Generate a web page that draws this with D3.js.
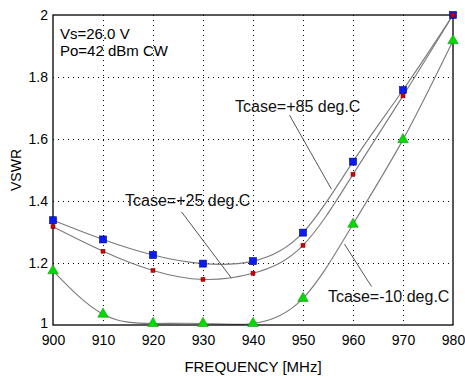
<!DOCTYPE html>
<html>
<head>
<meta charset="utf-8">
<script src="https://cdn.jsdelivr.net/npm/d3@7"></script>
<style>
  body { margin: 0; background: #fff; }
  svg { display: block; font-family: "Liberation Sans", Arial, sans-serif; }
  .grid line { stroke: #000; stroke-width: 1; stroke-dasharray: 1,4; }
  .curve { fill: none; stroke: #7a7a7a; stroke-width: 1.1; }
  .leader { stroke: #555; stroke-width: 1; }
</style>
</head>
<body>
<svg id="chart" width="465" height="376"></svg>
<script>
// frequencies (MHz)
var freqs = [900, 910, 920, 930, 940, 950, 960, 970, 980];

// VSWR per case temperature
var vswr85 = [1.338, 1.276, 1.226, 1.198, 1.206, 1.298, 1.527, 1.758, 2.0];
var vswr25 = [1.317, 1.238, 1.176, 1.147, 1.167, 1.257, 1.486, 1.739, 2.0];
var vswrM10 = [1.175, 1.035, 1.005, 1.005, 1.005, 1.086, 1.325, 1.598, 1.917];

var xTicks = [900, 910, 920, 930, 940, 950, 960, 970, 980];
var yTicks = [1, 1.2, 1.4, 1.6, 1.8, 2];
var yTickLabels = ["1", "1.2", "1.4", "1.6", "1.8", "2"];

var infoLines = ["Vs=26.0 V", "Po=42 dBm CW"];

// annotation labels: text anchor and leader end points, in data units
var annLabels = ["Tcase=+85 deg.C", "Tcase=+25 deg.C", "Tcase=-10 deg.C"];
var annText = [[936.4, 1.687], [914.4, 1.384], [955.0, 1.075]];
var annLeader = [[[947.3, 1.677], [955.7, 1.438]],
                 [[925.7, 1.365], [935.7, 1.151]],
                 [[963.7, 1.124], [958.3, 1.261]]];

var svg = d3.select("#chart");
var margin = { top: 15, right: 12, bottom: 51, left: 53 };
var width = +svg.attr("width") - margin.left - margin.right;
var height = +svg.attr("height") - margin.top - margin.bottom;

var xScale = d3.scaleLinear().domain([900, 980]).range([0, width]);
var yScale = d3.scaleLinear().domain([1, 2]).range([height, 0]);

var g = svg.append("g")
    .attr("transform", "translate(" + margin.left + "," + margin.top + ")");

// grid
var grid = g.append("g").attr("class", "grid");
grid.selectAll(".gx")
    .data(xTicks.slice(1, -1))
    .enter().append("line")
    .attr("x1", function (d) { return Math.round(xScale(d)) + 0.5; })
    .attr("x2", function (d) { return Math.round(xScale(d)) + 0.5; })
    .attr("y1", 0).attr("y2", height);
grid.selectAll(".gy")
    .data(yTicks.slice(1, -1))
    .enter().append("line")
    .attr("y1", function (d) { return Math.round(yScale(d)) + 0.5; })
    .attr("y2", function (d) { return Math.round(yScale(d)) + 0.5; })
    .attr("x1", 0).attr("x2", width);

// axes labels
var xAxis = d3.axisBottom(xScale)
    .tickValues(xTicks)
    .tickFormat(d3.format("d"))
    .tickSize(0)
    .tickPadding(10);
var yAxis = d3.axisLeft(yScale)
    .tickValues(yTicks)
    .tickFormat(function (d, i) { return yTickLabels[i]; })
    .tickSize(0)
    .tickPadding(5);

var gx = g.append("g")
    .attr("transform", "translate(0," + height + ")")
    .call(xAxis);
var gy = g.append("g").call(yAxis);
[gx, gy].forEach(function (a) {
    a.select(".domain").remove();
    a.selectAll("text").attr("font-size", 14).attr("fill", "#000")
        .attr("font-family", "Liberation Sans, Arial, sans-serif");
});
// lowest y label sits a little higher so it clears the x labels
gy.selectAll("text").filter(function (d) { return d === 1; }).attr("dy", "0.15em");

// curves
var line = d3.line()
    .x(function (d) { return xScale(d[0]); })
    .y(function (d) { return yScale(d[1]); })
    .curve(d3.curveNatural);

var series = [vswr85, vswr25, vswrM10];
series.forEach(function (vals) {
    g.append("path")
        .attr("class", "curve")
        .attr("d", line(freqs.map(function (f, i) { return [f, vals[i]]; })));
});

// frame
g.append("rect")
    .attr("x", 0).attr("y", 0)
    .attr("width", width).attr("height", height)
    .attr("fill", "none").attr("stroke", "#000").attr("stroke-width", 1.3);

// markers
g.selectAll(".m85")
    .data(vswr85)
    .enter().append("rect")
    .attr("x", function (d, i) { return xScale(freqs[i]) - 3.5; })
    .attr("y", function (d) { return yScale(d) - 3.5; })
    .attr("width", 7).attr("height", 7)
    .attr("fill", "#0a1cf0").attr("stroke", "#00008b").attr("stroke-width", 0.6);

g.selectAll(".m25")
    .data(vswr25)
    .enter().append("rect")
    .attr("x", function (d, i) { return xScale(freqs[i]) - 2; })
    .attr("y", function (d) { return yScale(d) - 2; })
    .attr("width", 4).attr("height", 4)
    .attr("fill", "#d00000").attr("stroke", "#800000").attr("stroke-width", 0.5);

var tri = d3.symbol().type(d3.symbolTriangle).size(48);
g.selectAll(".m10")
    .data(vswrM10)
    .enter().append("path")
    .attr("d", tri)
    .attr("transform", function (d, i) {
        return "translate(" + xScale(freqs[i]) + "," + yScale(d) + ")";
    })
    .attr("fill", "#00dc00").attr("stroke", "#2a8a2a").attr("stroke-width", 0.6);

// info text
g.selectAll(".info")
    .data(infoLines)
    .enter().append("text")
    .attr("x", xScale(901.4))
    .attr("y", function (d, i) { return 24 + i * 17; })
    .attr("font-size", 15)
    .text(function (d) { return d; });

// annotations
annLabels.forEach(function (lbl, i) {
    g.append("line")
        .attr("class", "leader")
        .attr("x1", xScale(annLeader[i][0][0])).attr("y1", yScale(annLeader[i][0][1]))
        .attr("x2", xScale(annLeader[i][1][0])).attr("y2", yScale(annLeader[i][1][1]));
    g.append("text")
        .attr("x", xScale(annText[i][0]))
        .attr("y", yScale(annText[i][1]))
        .attr("font-size", 16)
        .attr("fill", "#111")
        .text(lbl);
});

// axis titles
svg.append("text")
    .attr("x", margin.left + width / 2)
    .attr("y", 372)
    .attr("text-anchor", "middle")
    .attr("font-size", 15)
    .text("FREQUENCY [MHz]");

svg.append("text")
    .attr("transform", "translate(21,170) rotate(-90)")
    .attr("text-anchor", "middle")
    .attr("font-size", 14)
    .text("VSWR");
</script>
</body>
</html>
